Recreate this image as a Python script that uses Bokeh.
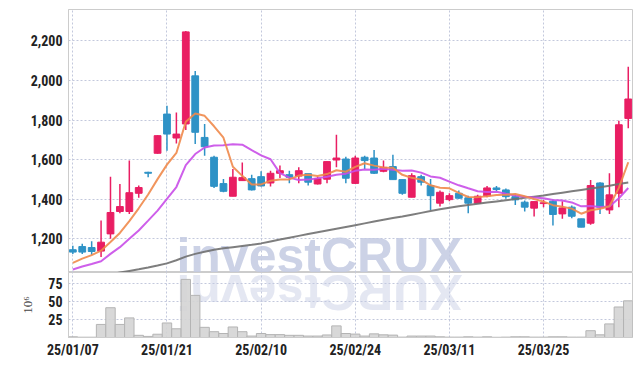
import numpy as np
from bokeh.plotting import figure
from bokeh.layouts import column
from bokeh.models import ColumnDataSource, Range1d, FixedTicker, NumeralTickFormatter, Label
from bokeh.embed import file_html
from bokeh.resources import INLINE

dates = ["25/01/07", "25/01/08", "25/01/09", "25/01/10", "25/01/13", "25/01/14", "25/01/15", "25/01/16",
         "25/01/17", "25/01/20", "25/01/21", "25/01/22", "25/01/23", "25/01/24", "25/01/31", "25/02/03",
         "25/02/04", "25/02/05", "25/02/06", "25/02/07", "25/02/10", "25/02/11", "25/02/12", "25/02/13",
         "25/02/14", "25/02/17", "25/02/18", "25/02/19", "25/02/20", "25/02/21", "25/02/24", "25/02/25",
         "25/02/26", "25/02/27", "25/02/28", "25/03/04", "25/03/05", "25/03/06", "25/03/07", "25/03/10",
         "25/03/11", "25/03/12", "25/03/13", "25/03/14", "25/03/17", "25/03/18", "25/03/19", "25/03/20",
         "25/03/21", "25/03/24", "25/03/25", "25/03/26", "25/03/27", "25/03/28", "25/03/31", "25/04/01",
         "25/04/02", "25/04/03", "25/04/04", "25/04/07"]

opens = [1145, 1161, 1156, 1138, 1225, 1338, 1338, 1430, 1536, 1632,
         1830, 1709, 1780, 2023, 1712, 1612, 1479, 1415, 1494, 1504,
         1514, 1482, 1531, 1524, 1517, 1529, 1477, 1501, 1598, 1603,
         1480, 1612, 1608, 1541, 1565, 1499, 1410, 1514, 1469, 1380,
         1398, 1430, 1407, 1380, 1417, 1457, 1447, 1413, 1385, 1355,
         1378, 1390, 1326, 1360, 1301, 1279, 1482, 1346, 1430, 1808]
highs = [1165, 1175, 1188, 1292, 1514, 1477, 1595, 1469, 1539, 1723,
         1872, 1838, 2250, 2048, 1780, 1620, 1502, 1553, 1586, 1523,
         1541, 1544, 1570, 1544, 1561, 1529, 1514, 1590, 1726, 1615,
         1620, 1620, 1649, 1595, 1625, 1499, 1531, 1524, 1502, 1444,
         1430, 1444, 1418, 1422, 1467, 1467, 1454, 1422, 1393, 1388,
         1396, 1397, 1390, 1368, 1301, 1497, 1486, 1531, 1796, 2069]
lows = [1124, 1124, 1119, 1108, 1200, 1329, 1326, 1407, 1511, 1630,
        1645, 1682, 1749, 1679, 1620, 1457, 1435, 1415, 1494, 1444,
        1464, 1464, 1507, 1481, 1481, 1469, 1474, 1481, 1561, 1481,
        1477, 1553, 1528, 1536, 1499, 1422, 1410, 1469, 1346, 1363,
        1390, 1402, 1329, 1380, 1410, 1440, 1402, 1371, 1338, 1313,
        1360, 1267, 1301, 1304, 1259, 1271, 1326, 1326, 1360, 1759]
closes = [1133, 1133, 1136, 1183, 1333, 1363, 1433, 1459, 1531, 1721,
          1729, 1729, 2245, 1738, 1665, 1465, 1440, 1511, 1509, 1447,
          1467, 1531, 1544, 1511, 1544, 1486, 1504, 1590, 1608, 1506,
          1608, 1595, 1531, 1561, 1499, 1430, 1519, 1486, 1418, 1435,
          1418, 1405, 1380, 1415, 1457, 1449, 1413, 1397, 1360, 1388,
          1382, 1323, 1356, 1314, 1259, 1469, 1360, 1422, 1776, 1906]

ma5 = [1079, 1100, 1118, 1140, 1183.6, 1229.6, 1289.6, 1354.2, 1423.8, 1501.4,
       1574.6, 1633.8, 1791.0, 1832.4, 1821.2, 1768.4, 1710.6, 1563.8, 1518.0, 1474.4,
       1474.8, 1493.0, 1499.6, 1500.0, 1519.4, 1523.2, 1517.8, 1527.0, 1546.4, 1538.8,
       1563.2, 1581.4, 1569.6, 1560.2, 1558.8, 1523.2, 1508.0, 1499.0, 1470.4, 1457.6,
       1455.2, 1432.4, 1411.2, 1410.6, 1415.0, 1421.2, 1422.8, 1426.2, 1415.2, 1401.4,
       1388.0, 1370.0, 1361.8, 1352.6, 1326.8, 1344.2, 1351.6, 1364.8, 1457.2, 1586.6]
ma10 = [1045, 1060, 1073, 1087, 1124, 1158, 1200, 1242, 1292, 1342.5,
        1402.1, 1461.7, 1572.6, 1628.1, 1661.3, 1671.5, 1672.2, 1677.4, 1675.2, 1647.8,
        1621.6, 1601.8, 1531.7, 1509.0, 1496.9, 1499.0, 1505.4, 1513.3, 1523.2, 1529.1,
        1543.2, 1549.6, 1548.3, 1553.3, 1548.8, 1543.2, 1544.7, 1534.3, 1515.3, 1508.2,
        1489.2, 1470.2, 1455.1, 1440.5, 1436.3, 1438.2, 1427.6, 1418.7, 1412.9, 1408.2,
        1404.6, 1396.4, 1394.0, 1383.9, 1364.1, 1366.1, 1360.8, 1363.3, 1404.9, 1456.7]
ma60 = [990, 997, 1005, 1012, 1020, 1030, 1038, 1046, 1055, 1065,
        1076, 1092, 1110, 1124, 1135, 1145, 1152, 1158, 1164, 1170,
        1177, 1187, 1197, 1206, 1215, 1224, 1233, 1242, 1251, 1260,
        1269, 1278, 1287, 1296, 1305, 1313, 1322, 1331, 1340, 1349,
        1357, 1364, 1371, 1377, 1383, 1389, 1395, 1401, 1407, 1413,
        1419, 1426, 1433, 1440, 1447, 1454, 1461, 1468, 1477, 1485]

volume_m = [1.0, 0.4, 0.4, 18, 41, 18, 27, 3, 1.5, 4.5,
            20, 12, 80, 58, 14, 8, 5.5, 14.5, 8, 2,
            5.5, 4, 4, 3, 3, 2, 2, 3.5, 16, 5.5,
            4.7, 2, 5, 3.7, 3.3, 0.5, 2, 2, 2, 1,
            0.5, 0.5, 1, 0.5, 1, 0.3, 0.5, 1, 1, 0.5,
            0.5, 1, 1, 0.5, 0.5, 9.4, 3.7, 18.7, 42, 50.5]

tick_idx = [0, 10, 20, 30, 40, 50]

UP = "#e91e63"
DOWN = "#2e92c6"
GRID = "#c3c8dc"
AXIS = "#cccccc"
LABEL_FONT = "Liberation Sans Narrow, Roboto Condensed, Roboto"

xs = list(range(len(dates)))
up = [c >= o for o, c in zip(opens, closes)]
src = ColumnDataSource(dict(
    x=xs, open=opens, high=highs, low=lows, close=closes,
    top=[max(o, c) for o, c in zip(opens, closes)],
    bottom=[min(o, c) for o, c in zip(opens, closes)],
    color=[UP if u else DOWN for u in up],
    vol=volume_m, ma5=ma5, ma10=ma10, ma60=ma60,
))

x_range = Range1d(-0.46, 59.45)


def style_axis(ax):
    ax.axis_line_color = AXIS
    ax.major_tick_line_color = None
    ax.minor_tick_line_color = None
    ax.major_tick_out = 0
    ax.major_tick_in = 0
    ax.minor_tick_out = 0
    ax.minor_tick_in = 0
    ax.major_label_text_font = LABEL_FONT
    ax.major_label_text_font_style = "bold"
    ax.major_label_text_font_size = "14px"
    ax.major_label_text_color = "#222222"


p = figure(width=634, height=272, x_range=x_range, y_range=Range1d(1030, 2358),
           output_backend="svg", toolbar_location=None,
           min_border_left=68, min_border_right=2, min_border_top=9, min_border_bottom=0)
p.xaxis.visible = False
p.outline_line_color = AXIS

p.xgrid.ticker = FixedTicker(ticks=tick_idx)
p.xgrid.grid_line_color = GRID
p.xgrid.grid_line_dash = "2 2"
p.ygrid.grid_line_color = GRID
p.ygrid.grid_line_dash = "2 2"

p.yaxis.ticker = FixedTicker(ticks=[1200, 1400, 1600, 1800, 2000, 2200])
p.yaxis.formatter = NumeralTickFormatter(format="0,0")
style_axis(p.yaxis[0])
p.yaxis.major_label_standoff = 6

wm = Label(x=251, y=17, x_units="screen", y_units="screen", text="investCRUX",
           text_font="Liberation Sans", text_font_style="bold", text_font_size="50px",
           text_color="#c3cae2", text_alpha=0.85, text_align="center",
           text_baseline="middle", level="underlay")
p.add_layout(wm)

p.segment(x0="x", y0="low", x1="x", y1="high", line_color="color", line_width=1.5, source=src)
p.vbar(x="x", width=0.72, top="top", bottom="bottom", fill_color="color", line_color="color",
       line_width=1, source=src)
p.line("x", "ma60", source=src, line_color="#707070", line_width=2, line_alpha=0.9)
p.line("x", "ma10", source=src, line_color="#c94ee8", line_width=2, line_alpha=0.9)
p.line("x", "ma5", source=src, line_color="#f08a4b", line_width=2, line_alpha=0.9)

v = figure(width=634, height=88, x_range=x_range, y_range=Range1d(0, 89.5),
           output_backend="svg", toolbar_location=None,
           min_border_left=68, min_border_right=2, min_border_top=0, min_border_bottom=23)
v.outline_line_color = AXIS
v.xgrid.grid_line_color = GRID
v.xgrid.grid_line_dash = "2 2"
v.ygrid.grid_line_color = GRID
v.ygrid.grid_line_dash = "2 2"

wm2 = Label(x=251, y=46, x_units="screen", y_units="screen", text="XURCtsevni", angle=np.pi,
            text_font="Liberation Sans", text_font_style="bold", text_font_size="50px",
            text_color="#c3cae2", text_alpha=0.45, text_align="center",
            text_baseline="middle", level="underlay")
v.add_layout(wm2)

v.vbar(x="x", width=1.0, top="vol", bottom=0, fill_color="#d4d4d4", fill_alpha=0.9,
       line_color="#b4b4b4", line_width=1, source=src)

v.xaxis.ticker = FixedTicker(ticks=tick_idx)
v.xaxis.major_label_overrides = {i: dates[i] for i in tick_idx}
style_axis(v.xaxis[0])
v.xaxis.major_label_standoff = 4

v.yaxis.ticker = FixedTicker(ticks=[25, 50, 75])
style_axis(v.yaxis[0])
v.yaxis.major_label_standoff = 6
v.yaxis.axis_label = "10⁶"
v.yaxis.axis_label_text_font = "Liberation Serif"
v.yaxis.axis_label_text_font_style = "normal"
v.yaxis.axis_label_text_font_size = "13px"
v.yaxis.axis_label_text_color = "#444444"
v.yaxis.axis_label_standoff = 10

layout = column(p, v, spacing=0)
open("out.html", "w").write(file_html(layout, INLINE))
